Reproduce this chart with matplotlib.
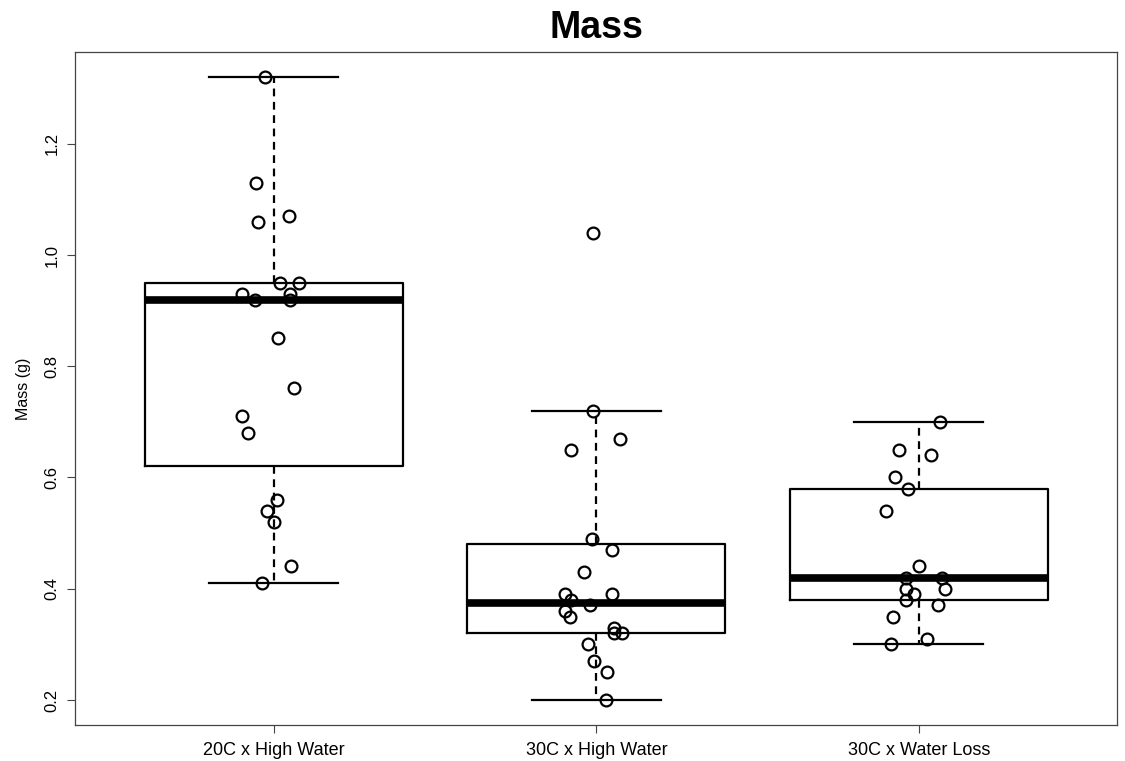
import matplotlib
matplotlib.use("Agg")
import matplotlib.pyplot as plt
import numpy as np

plt.rcParams['font.family'] = ['Liberation Sans', 'DejaVu Sans']

groups = ['20C x High Water', '30C x High Water', '30C x Water Loss']

# masses, with the sideways jitter each point got
mass_20hw = [1.32, 1.13, 1.06, 1.07, 0.95, 0.95, 0.93, 0.93, 0.92, 0.92,
             0.85, 0.76, 0.71, 0.68, 0.56, 0.54, 0.52, 0.44, 0.41]
jit_20hw = [-0.028, -0.056, -0.05, 0.046, 0.02, 0.077, -0.098, 0.05, -0.058, 0.05,
            0.012, 0.062, -0.098, -0.08, 0.009, -0.022, 0.001, 0.052, -0.037]

mass_30hw = [1.04, 0.72, 0.67, 0.65, 0.49, 0.47, 0.43, 0.39, 0.39, 0.38,
             0.37, 0.36, 0.35, 0.33, 0.32, 0.32, 0.30, 0.27, 0.25, 0.20]
jit_30hw = [-0.012, -0.01, 0.073, -0.08, -0.014, 0.047, -0.04, -0.098, 0.047, -0.08,
            -0.02, -0.098, -0.082, 0.055, 0.054, 0.078, -0.027, -0.008, 0.032, 0.029]

mass_30wl = [0.70, 0.65, 0.64, 0.60, 0.58, 0.54, 0.44, 0.42, 0.42, 0.40,
             0.40, 0.39, 0.38, 0.37, 0.35, 0.31, 0.30]
jit_30wl = [0.065, -0.062, 0.037, -0.074, -0.034, -0.101, 0.0, -0.039, 0.071, -0.041,
            0.082, -0.016, -0.041, 0.06, -0.081, 0.026, -0.088]

# box summaries (R style: hinges, whiskers; outliers not drawn)
whis_lo = [0.41, 0.20, 0.30]
q1 = [0.62, 0.32, 0.38]
med = [0.92, 0.375, 0.42]
q3 = [0.95, 0.48, 0.58]
whis_hi = [1.32, 0.72, 0.70]

masses = [mass_20hw, mass_30hw, mass_30wl]
jitters = [jit_20hw, jit_30hw, jit_30wl]

fig = plt.figure(figsize=(11.25, 7.61), dpi=100)
ax = fig.add_axes([75/1125, 36/761, 1042/1125, 673/761])

stats = []
for i in range(3):
    stats.append(dict(med=med[i], q1=q1[i], q3=q3[i],
                      whislo=whis_lo[i], whishi=whis_hi[i], fliers=[]))

ax.bxp(stats, positions=[1, 2, 3], widths=0.8, capwidths=0.4,
       showfliers=False,
       boxprops=dict(color='black', linewidth=1.6),
       medianprops=dict(color='black', linewidth=5.5, solid_capstyle='butt'),
       whiskerprops=dict(color='black', linewidth=1.6, linestyle=(0, (3.5, 2.5))),
       capprops=dict(color='black', linewidth=1.6))

for i in range(3):
    xs = (i + 1) + np.array(jitters[i])
    ax.plot(xs, masses[i], 'o', mfc='none', mec='black', ms=8.5, mew=1.6, zorder=5)

ax.set_xlim(0.383, 3.614)
ax.set_ylim(0.155, 1.365)
ax.set_xticks([1, 2, 3])
ax.set_xticklabels(groups, fontsize=13)
ax.set_yticks([0.2, 0.4, 0.6, 0.8, 1.0, 1.2])
ax.set_yticklabels(['0.2', '0.4', '0.6', '0.8', '1.0', '1.2'],
                   rotation=90, va='center', fontsize=12)
ax.tick_params(axis='both', length=6, width=0.8, color='#444444')
ax.tick_params(axis='y', pad=5)
ax.tick_params(axis='x', pad=6)
for s in ax.spines.values():
    s.set_color('#444444')
    s.set_linewidth(0.9)

ax.set_ylabel('Mass (g)', fontsize=11.5, labelpad=10)
ax.set_title('Mass', fontsize=27, fontweight='bold', pad=10)

fig.savefig('out.png', dpi=100)
